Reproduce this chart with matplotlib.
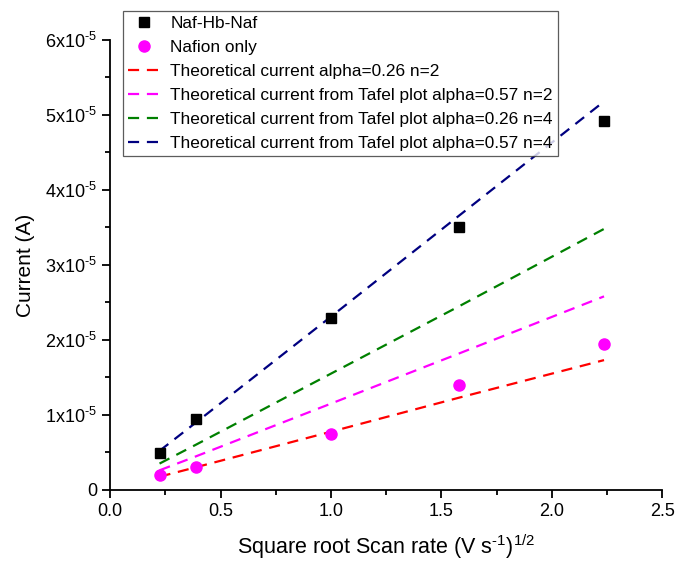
import numpy as np
import matplotlib
matplotlib.use("Agg")
import matplotlib.pyplot as plt
from matplotlib.ticker import MultipleLocator

plt.rcParams['font.family'] = ['Liberation Sans', 'DejaVu Sans']
plt.rcParams['mathtext.fontset'] = 'custom'
plt.rcParams['mathtext.rm'] = 'Liberation Sans'
plt.rcParams['mathtext.it'] = 'Liberation Sans:italic'
plt.rcParams['mathtext.bf'] = 'Liberation Sans:bold'

HY = '\u2010'  # plain hyphen for the exponents

### data
x_rate = [0.2236, 0.3873, 1.0, 1.5811, 2.2361]
naf_hb = [4.9e-6, 9.4e-6, 2.29e-5, 3.51e-5, 4.92e-5]
nafion = [2.0e-6, 3.0e-6, 7.4e-6, 1.4e-5, 1.94e-5]

th_026_n2 = [1.75e-6, 3.0e-6, 7.75e-6, 1.23e-5, 1.73e-5]
th_057_n2 = [2.6e-6, 4.45e-6, 1.15e-5, 1.82e-5, 2.58e-5]
th_026_n4 = [3.5e-6, 6.0e-6, 1.55e-5, 2.45e-5, 3.48e-5]
th_057_n4 = [5.2e-6, 8.95e-6, 2.31e-5, 3.66e-5, 5.18e-5]

yticks = [0, 1e-5, 2e-5, 3e-5, 4e-5, 5e-5, 6e-5]
ylabels = ['0'] + ['%dx10$^{\\mathrm{%s5}}$' % (k, HY) for k in range(1, 7)]

fig = plt.figure(figsize=(6.8, 5.63), dpi=100)
ax = fig.add_axes([0.162, 0.130, 0.812, 0.799])

dash = (0, (5, 3.5))
ax.plot(x_rate, naf_hb, 's', color='black', ms=7.5, label='Naf-Hb-Naf', zorder=3)
ax.plot(x_rate, nafion, 'o', color='#ff00ff', ms=8, label='Nafion only', zorder=3)
ax.plot(x_rate, th_026_n2, color='red', ls=dash, lw=1.6,
        label='Theoretical current alpha=0.26 n=2')
ax.plot(x_rate, th_057_n2, color='#ff00ff', ls=dash, lw=1.6,
        label='Theoretical current from Tafel plot alpha=0.57 n=2')
ax.plot(x_rate, th_026_n4, color='#008000', ls=dash, lw=1.6,
        label='Theoretical current from Tafel plot alpha=0.26 n=4')
ax.plot(x_rate, th_057_n4, color='#000080', ls=dash, lw=1.6,
        label='Theoretical current from Tafel plot alpha=0.57 n=4')

ax.set_xlim(0, 2.5)
ax.set_ylim(0, 6e-5)
ax.set_yticks(yticks)
ax.set_yticklabels(ylabels)
ax.xaxis.set_major_locator(MultipleLocator(0.5))
ax.xaxis.set_minor_locator(MultipleLocator(0.25))
ax.yaxis.set_minor_locator(MultipleLocator(0.5e-5))
ax.xaxis.set_major_formatter(matplotlib.ticker.FormatStrFormatter('%.1f'))

for s in ['top', 'right']:
    ax.spines[s].set_visible(False)
for s in ['left', 'bottom']:
    ax.spines[s].set_linewidth(1.3)
ax.tick_params(which='major', direction='out', length=6, width=1.3, labelsize=13)
ax.tick_params(which='minor', direction='out', length=3.5, width=1.3)

ax.set_xlabel('Square root Scan rate (V s$^{\\mathrm{%s1}}$)$^{\\mathrm{1/2}}$' % HY,
              fontsize=15.5, labelpad=9)
ax.set_ylabel('Current (A)', fontsize=15, labelpad=7)

leg = ax.legend(loc='upper left', bbox_to_anchor=(0.181, 0.981), bbox_transform=fig.transFigure,
                fontsize=12.4, frameon=True, fancybox=False, edgecolor='#333333',
                handlelength=1.8, handletextpad=0.65, borderpad=0.3, labelspacing=0.52,
                borderaxespad=0)
leg.get_frame().set_linewidth(0.9)

plt.savefig('out.png', dpi=100)
